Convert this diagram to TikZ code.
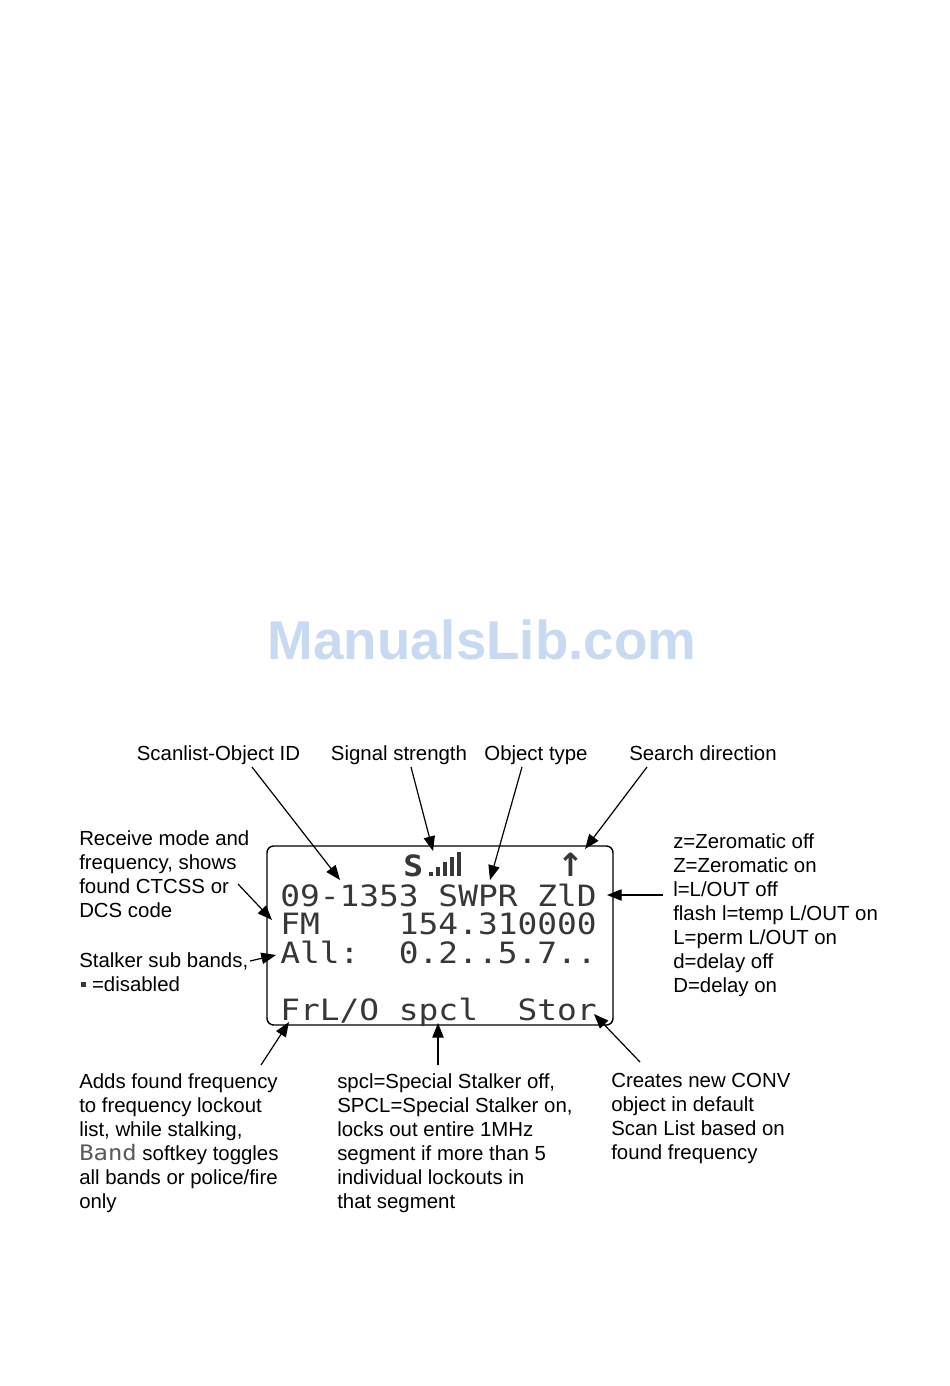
\documentclass[tikz,border=0pt]{standalone}
\usepackage{fontspec}
\setmainfont{Liberation Sans}
\newfontfamily\lcd[FakeStretch=1.12]{DejaVu Sans Mono}
\newfontfamily\lcdbold[FakeStretch=1.12]{DejaVu Sans Mono Bold}
\newfontfamily\symfont{DejaVu Sans}
\usetikzlibrary{arrows.meta}
\definecolor{wmblue}{RGB}{200,218,242}
\definecolor{lcdink}{RGB}{55,55,55}
\tikzset{
  lbl/.style={inner sep=0pt, anchor=north west, align=left, font=\fontsize{15.3}{18}\selectfont},
  toplbl/.style={inner sep=0pt, anchor=base, font=\fontsize{15.3}{18}\selectfont},
  arr/.style={-{Triangle[length=11pt,width=8.5pt]}, line width=0.9pt},
  lcdrow/.style={inner sep=0pt, anchor=base west, text=lcdink, font=\lcd\fontsize{22}{22}\selectfont},
  bar/.style={fill=lcdink, draw=none}
}
\begin{document}
\begin{tikzpicture}[x=0.75pt,y=-0.75pt]
\useasboundingbox[fill=white] (0,0) rectangle (950,1386);

% watermark
\node[inner sep=0pt, text=wmblue, font=\bfseries\fontsize{41}{41}\selectfont] (wm) at (482,640) {ManualsLib.com};

% LCD frame
\node[draw, line width=1.1pt, rounded corners=5pt, minimum width=259.5pt, minimum height=134.25pt, inner sep=0pt] (lcd) at (440,935.5) {};

% LCD contents
\node[inner sep=0pt, anchor=base west, text=lcdink, font=\lcdbold\fontsize{22}{22}\selectfont] (sig) at (403,876) {S};
\fill[lcdink] (429,872) rectangle (433,876);
\fill[lcdink] (436,867) rectangle (440,876);
\fill[lcdink] (443,862) rectangle (447,876);
\fill[lcdink] (450,857) rectangle (454,876);
\fill[lcdink] (457,852) rectangle (461,876);
\node[inner sep=0pt, anchor=base, text=lcdink, font=\symfont\bfseries\fontsize{24}{24}\selectfont] (dir) at (571,876) {↑};
\node[lcdrow] (row1) at (280,906) {09-1353 SWPR ZlD};
\node[lcdrow] (row2) at (280,934) {FM~~~~154.310000};
\node[lcdrow] (row3) at (280,963) {All:~~0.2..5.7..};
\node[lcdrow] (row4) at (280,1020) {FrL/O spcl~~Stor};

% top labels
\node[toplbl] (scan) at (218.5,760) {Scanlist-Object ID};
\node[toplbl] (sigs) at (399,760) {Signal strength};
\node[toplbl] (otype) at (536,760) {Object type};
\node[toplbl] (sdir) at (703,760) {Search direction};

% left labels
\node[lbl] (recv) at (79,830) {Receive mode and\\frequency, shows\\found CTCSS or\\DCS code};
\node[lbl] (stalk) at (79,952) {Stalker sub bands,\\\phantom{\textbullet} =disabled};
\fill[lcdink] (81,982) rectangle (86,987);

% right labels
\node[lbl] (zero) at (673,833) {z=Zeromatic off\\Z=Zeromatic on\\l=L/OUT off\\flash l=temp L/OUT on\\L=perm L/OUT on\\d=delay off\\D=delay on};

% bottom labels
\node[lbl] (adds) at (79,1073) {Adds found frequency\\to frequency lockout\\list, while stalking,\\{\lcd\color{black!65}\fontsize{16}{18}\selectfont Band} softkey toggles\\all bands or police/fire\\only};
\node[lbl] (spcl) at (337,1073) {spcl=Special Stalker off,\\SPCL=Special Stalker on,\\locks out entire 1MHz\\segment if more than 5\\individual lockouts in\\that segment};
\node[lbl] (stor) at (611,1073) {Creates new CONV\\object in default\\Scan List based on\\found frequency};

% connector coordinates
\coordinate (a1s) at (252,767); \coordinate (a1e) at (340,880);
\coordinate (a2s) at (411,767); \coordinate (a2e) at (433,851);
\coordinate (a3s) at (522,767); \coordinate (a3e) at (490,880);
\coordinate (a4s) at (647,767); \coordinate (a4e) at (585,849);
\coordinate (a5s) at (663,895); \coordinate (a5e) at (607,895);
\coordinate (a6s) at (238,884); \coordinate (a6e) at (272,920);
\coordinate (a7s) at (250,961); \coordinate (a7e) at (276,955);
\coordinate (a8s) at (261,1065); \coordinate (a8e) at (289,1022);
\coordinate (a9s) at (438,1065); \coordinate (a9e) at (438,1023);
\coordinate (a10s) at (640,1062); \coordinate (a10e) at (594,1014);

\draw[arr] (a1s) -- (a1e);
\draw[arr] (a2s) -- (a2e);
\draw[arr] (a3s) -- (a3e);
\draw[arr] (a4s) -- (a4e);
\draw[arr] (a5s) -- (a5e);
\draw[arr] (a6s) -- (a6e);
\draw[arr] (a7s) -- (a7e);
\draw[arr] (a8s) -- (a8e);
\draw[arr] (a9s) -- (a9e);
\draw[arr] (a10s) -- (a10e);
\end{tikzpicture}
\end{document}
